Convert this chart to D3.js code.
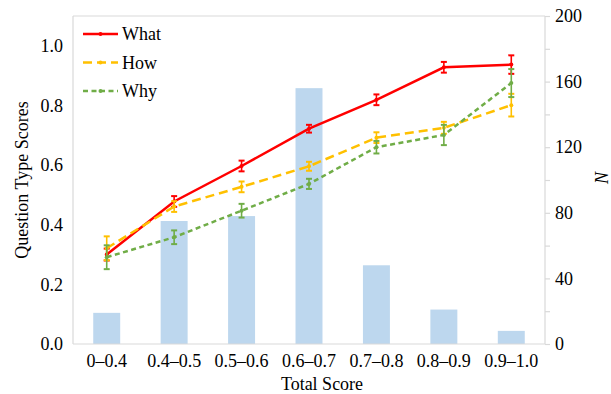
<!DOCTYPE html>
<html>
<head>
<meta charset="utf-8">
<script src="https://cdn.jsdelivr.net/npm/d3@7"></script>
<style>
  body { margin: 0; background: #fff; }
  text { font-family: "Liberation Serif", "Times New Roman", serif; fill: #000; }
</style>
</head>
<body>
<svg id="chart" width="611" height="394"></svg>
<script>
// categories and values
var categories = ["0\u20130.4", "0.4\u20130.5", "0.5\u20130.6", "0.6\u20130.7", "0.7\u20130.8", "0.8\u20130.9", "0.9\u20131.0"];
var counts = [19, 75, 78, 156, 48, 21, 8];

var whatVals = [0.30, 0.478, 0.597, 0.722, 0.819, 0.928, 0.937];
var whatErr  = [0.02, 0.018, 0.018, 0.013, 0.018, 0.018, 0.031];
var howVals  = [0.321, 0.461, 0.527, 0.596, 0.692, 0.725, 0.801];
var howErr   = [0.04, 0.018, 0.018, 0.015, 0.018, 0.02, 0.038];
var whyVals  = [0.291, 0.358, 0.447, 0.537, 0.66, 0.701, 0.875];
var whyErr   = [0.04, 0.023, 0.023, 0.017, 0.021, 0.034, 0.047];

var leftTicks = [0, 0.2, 0.4, 0.6, 0.8, 1.0];
var rightTicks = [0, 20, 40, 60, 80, 100, 120, 140, 160, 180, 200];

var series = [
  {name: "What", vals: whatVals, err: whatErr, color: "#ff0000", dash: null},
  {name: "How",  vals: howVals,  err: howErr,  color: "#ffc000", dash: "9,5"},
  {name: "Why",  vals: whyVals,  err: whyErr,  color: "#70ad47", dash: "5,3.5"}
];

var svg = d3.select("#chart");
var plotL = 73, plotR = 545, plotT = 16, plotB = 344;

var x = d3.scaleBand().domain(categories).range([plotL, plotR]).padding(0);
var yL = d3.scaleLinear().domain([0, 1.1]).range([plotB, plotT]);
var yR = d3.scaleLinear().domain([0, 200]).range([plotB, plotT]);

// top frame line
svg.append("line").attr("x1", plotL).attr("x2", plotR).attr("y1", plotT).attr("y2", plotT)
  .attr("stroke", "#d9d9d9").attr("stroke-width", 1.2);

// bars (right axis)
var barW = x.bandwidth() * 0.4;
svg.append("g").selectAll("rect")
  .data(counts)
  .enter().append("rect")
  .attr("x", function(d, i){ return x(categories[i]) + x.bandwidth() / 2 - barW / 2; })
  .attr("y", function(d){ return yR(d); })
  .attr("width", barW)
  .attr("height", function(d){ return plotB - yR(d); })
  .attr("fill", "#bdd7ee");

// left axis
var gL = svg.append("g").attr("transform", "translate(" + plotL + ",0)")
  .call(d3.axisLeft(yL).tickValues(leftTicks).tickFormat(d3.format(".1f")).tickSize(0).tickPadding(10));
gL.select(".domain").attr("stroke", "#d9d9d9").attr("stroke-width", 1.2).attr("d", "M0," + plotT + "V" + plotB);
gL.selectAll("text").style("font-size", "18px").style("font-family", "Liberation Serif");

// right axis
var gR = svg.append("g").attr("transform", "translate(" + plotR + ",0)")
  .call(d3.axisRight(yR).tickValues(rightTicks).tickSize(5).tickPadding(5)
    .tickFormat(function(d){ return d % 40 === 0 ? d : ""; }));
gR.select(".domain").attr("stroke", "#d9d9d9").attr("stroke-width", 1.2).attr("d", "M0," + plotT + "V" + plotB);
gR.selectAll(".tick line").attr("stroke", "#d9d9d9").attr("stroke-width", 1.2);
gR.selectAll("text").style("font-size", "18px").style("font-family", "Liberation Serif");

// bottom axis
var gB = svg.append("g").attr("transform", "translate(0," + plotB + ")")
  .call(d3.axisBottom(x).tickSize(0).tickPadding(10));
gB.select(".domain").attr("stroke", "#d9d9d9").attr("stroke-width", 1.2).attr("d", "M" + plotL + ",0H" + plotR);
gB.selectAll("text").style("font-size", "18px").style("font-family", "Liberation Serif");

// lines with error bars
var cx = function(i){ return x(categories[i]) + x.bandwidth() / 2; };
series.forEach(function(s){
  var line = d3.line().x(function(d, i){ return cx(i); }).y(function(d){ return yL(d); });
  svg.append("path").datum(s.vals)
    .attr("d", line).attr("fill", "none")
    .attr("stroke", s.color).attr("stroke-width", 2.5)
    .attr("stroke-dasharray", s.dash);

  var eb = svg.append("g").attr("stroke", s.color).attr("stroke-width", 1.6);
  s.vals.forEach(function(v, i){
    var x0 = cx(i), y1 = yL(v + s.err[i]), y2 = yL(v - s.err[i]);
    eb.append("line").attr("x1", x0).attr("x2", x0).attr("y1", y1).attr("y2", y2);
    eb.append("line").attr("x1", x0 - 3).attr("x2", x0 + 3).attr("y1", y1).attr("y2", y1).attr("stroke-width", 2);
    eb.append("line").attr("x1", x0 - 3).attr("x2", x0 + 3).attr("y1", y2).attr("y2", y2).attr("stroke-width", 2);
  });
  svg.append("g").selectAll("circle").data(s.vals).enter().append("circle")
    .attr("cx", function(d, i){ return cx(i); })
    .attr("cy", function(d){ return yL(d); })
    .attr("r", 2).attr("fill", s.color);
});

// legend
var legend = svg.append("g").attr("transform", "translate(83,34)");
series.forEach(function(s, i){
  var g = legend.append("g").attr("transform", "translate(0," + (i * 28.5) + ")");
  g.append("line").attr("x1", 0).attr("x2", 35).attr("y1", 0).attr("y2", 0)
    .attr("stroke", s.color).attr("stroke-width", 2.5).attr("stroke-dasharray", s.dash);
  g.append("circle").attr("cx", 17.5).attr("cy", 0).attr("r", 2).attr("fill", s.color);
  g.append("text").attr("x", 39).attr("y", 6).style("font-size", "18px").text(s.name);
});

// axis titles
svg.append("text")
  .attr("transform", "translate(28," + ((plotT + plotB) / 2) + ") rotate(-90)")
  .attr("text-anchor", "middle").style("font-size", "18px")
  .text("Question Type Scores");
svg.append("text")
  .attr("x", 322).attr("y", 390)
  .attr("text-anchor", "middle").style("font-size", "18px")
  .text("Total Score");
svg.append("text")
  .attr("transform", "translate(608,178) rotate(-90)")
  .attr("text-anchor", "middle").style("font-size", "18px").style("font-style", "italic")
  .text("N");
</script>
</body>
</html>
